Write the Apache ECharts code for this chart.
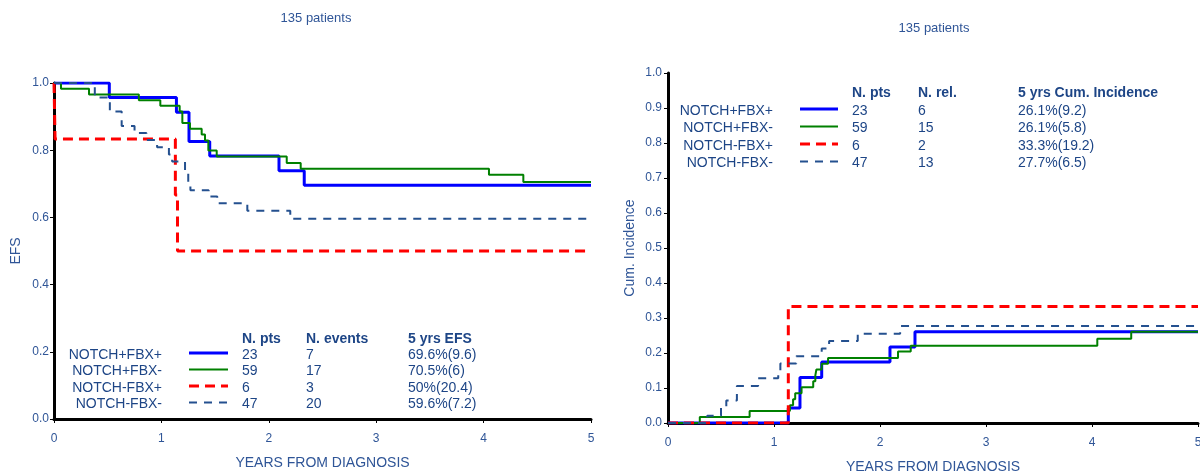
<!DOCTYPE html>
<html><head><meta charset="utf-8">
<script src="https://cdn.jsdelivr.net/npm/echarts@6/dist/echarts.min.js"></script>
<style>html,body{margin:0;padding:0;background:#fff}#c{width:1200px;height:473px}</style>
</head><body><div id="c"></div><script>
// ---- data ----
const groups = ['NOTCH+FBX+', 'NOTCH+FBX-', 'NOTCH-FBX+', 'NOTCH-FBX-'];
const nPts = [23, 59, 6, 47];
const nEvents = [7, 17, 3, 20];
const efs5 = ['69.6%(9.6)', '70.5%(6)', '50%(20.4)', '59.6%(7.2)'];
const nRel = [6, 15, 2, 13];
const ci5 = ['26.1%(9.2)', '26.1%(5.8)', '33.3%(19.2)', '27.7%(6.5)'];
const xTicks = [0, 1, 2, 3, 4, 5];
const efsTicks = [0, 0.2, 0.4, 0.6, 0.8, 1.0];
const ciTicks = [0, 0.1, 0.2, 0.3, 0.4, 0.5, 0.6, 0.7, 0.8, 0.9, 1.0];
const subtitle = '135 patients';

// EFS (Kaplan-Meier) steps: [years, EFS]
const efsNfPos = [[0,1],[0.515,0.957],[1.14,0.913],[1.257,0.826],[1.45,0.783],[2.095,0.739],[2.33,0.696],[5,0.696]];
const efsNfNeg = [[0,1],[0.065,0.983],[0.326,0.966],[0.79,0.949],[0.99,0.932],[1.17,0.915],[1.195,0.881],[1.266,0.864],[1.375,0.847],[1.406,0.829],[1.437,0.799],[1.515,0.781],[2.167,0.762],[2.297,0.745],[4.05,0.727],[4.37,0.705],[5,0.705]];
const efsNnPos = [[0,1],[0.01,0.833],[1.13,0.667],[1.15,0.5],[5,0.5]];
const efsNnNeg = [[0,1],[0.38,0.957],[0.52,0.915],[0.63,0.872],[0.75,0.851],[0.86,0.830],[0.96,0.809],[1.07,0.787],[1.10,0.766],[1.22,0.741],[1.25,0.706],[1.27,0.681],[1.44,0.662],[1.52,0.642],[1.80,0.620],[2.20,0.596],[5,0.596]];

// Cumulative incidence of relapse steps: [years, CI]
const ciNfPos = [[0,0],[1.135,0.043],[1.245,0.130],[1.45,0.174],[2.094,0.217],[2.33,0.261],[5,0.261]];
const ciNfNeg = [[0,0],[0.30,0.017],[0.77,0.034],[1.15,0.051],[1.18,0.068],[1.20,0.085],[1.26,0.102],[1.37,0.119],[1.39,0.136],[1.40,0.153],[1.45,0.169],[1.51,0.186],[2.17,0.204],[2.29,0.221],[4.05,0.241],[4.37,0.261],[5,0.261]];
const ciNnPos = [[0,0],[1.135,0.333],[5,0.333]];
const ciNnNeg = [[0,0],[0.37,0.021],[0.50,0.043],[0.55,0.064],[0.65,0.106],[0.85,0.128],[1.04,0.149],[1.06,0.170],[1.21,0.191],[1.45,0.213],[1.52,0.234],[1.79,0.255],[2.19,0.277],[5,0.277]];

// ---- styles ----
const colors = ['#0000ff', '#008000', '#ff0000', '#24508f'];
const widths = [3, 2, 3, 2];
const dashes = ['solid', 'solid', [10, 6], [8, 7]];
const axisTextColor = '#2f5597';
const legendColor = '#1d4586';
const FONT = '"Liberation Sans", Arial, sans-serif';

const efsData = [efsNfPos, efsNfNeg, efsNnPos, efsNnNeg];
const ciData = [ciNfPos, ciNfNeg, ciNnPos, ciNnNeg];

function xAxisCfg(gi, gap) {
  return {
    type: 'value', gridIndex: gi, min: 0, max: 5, interval: 1,
    name: 'YEARS FROM DIAGNOSIS', nameLocation: 'middle', nameGap: gap,
    nameTextStyle: { color: axisTextColor, fontSize: 14, fontFamily: FONT },
    axisLine: { show: true, onZero: false, lineStyle: { color: '#000', width: 3 } },
    axisTick: { show: true, length: 4, lineStyle: { color: '#000', width: 1 } },
    axisLabel: { color: axisTextColor, fontSize: 12, fontFamily: FONT, margin: 14,
      formatter: v => xTicks.includes(v) ? String(v) : '' },
    splitLine: { show: false }
  };
}
function yAxisCfg(gi, name, interval, gap, ticks, margin) {
  return {
    type: 'value', gridIndex: gi, min: 0, max: 1, interval: interval,
    name: name, nameLocation: 'middle', nameGap: gap,
    nameTextStyle: { color: axisTextColor, fontSize: 14, fontFamily: FONT },
    axisLine: { show: true, onZero: false, lineStyle: { color: '#000', width: 3 } },
    axisTick: { show: true, length: 4, lineStyle: { color: '#000', width: 1 } },
    axisLabel: { color: axisTextColor, fontSize: 12, fontFamily: FONT, margin: margin,
      formatter: v => ticks.some(t => Math.abs(t - v) < 1e-9) ? v.toFixed(1) : '' },
    splitLine: { show: false }
  };
}

const series = [];
[efsData, ciData].forEach((set, gi) => {
  set.forEach((d, i) => {
    series.push({
      type: 'line', step: 'end', xAxisIndex: gi, yAxisIndex: gi,
      data: d, showSymbol: false, symbol: 'none', animation: false,
      lineStyle: { color: colors[i], width: widths[i], type: dashes[i] },
      z: 2 + i
    });
  });
});

// legend tables (graphic)
const graphics = [];
function txt(x, y, text, opts) {
  graphics.push({ type: 'text', x: x, y: y, silent: true,
    style: Object.assign({ text: String(text), fill: legendColor, font: '14px ' + FONT,
      align: 'left', verticalAlign: 'middle' }, opts || {}) });
}
function sample(x1, x2, y, i) {
  graphics.push({ type: 'line', silent: true, shape: { x1: x1, y1: y, x2: x2, y2: y },
    style: { stroke: colors[i], lineWidth: widths[i], lineDash: Array.isArray(dashes[i]) ? dashes[i] : null } });
}
function table(cfg) {
  txt(cfg.cols[0], cfg.headY, 'N. pts', { font: 'bold 14px ' + FONT });
  txt(cfg.cols[1], cfg.headY, cfg.h2, { font: 'bold 14px ' + FONT });
  txt(cfg.cols[2], cfg.headY, cfg.h3, { font: 'bold 14px ' + FONT });
  groups.forEach((g, i) => {
    const y = cfg.rowY0 + i * cfg.dy;
    txt(cfg.labelRight, y, g, { align: 'right' });
    sample(cfg.lx1, cfg.lx2, y - 2, i);
    txt(cfg.cols[0], y, nPts[i]);
    txt(cfg.cols[1], y, cfg.c2[i]);
    txt(cfg.cols[2], y, cfg.c3[i]);
  });
}
table({ headY: 339, rowY0: 355, dy: 16.5, labelRight: 162, lx1: 189, lx2: 228,
  cols: [242, 306, 408], h2: 'N. events', h3: '5 yrs EFS', c2: nEvents, c3: efs5 });
table({ headY: 93, rowY0: 111, dy: 17.5, labelRight: 773, lx1: 800, lx2: 838,
  cols: [852, 918, 1018], h2: 'N. rel.', h3: '5 yrs Cum. Incidence', c2: nRel, c3: ci5 });
txt(316, 18, subtitle, { align: 'center', fill: axisTextColor, font: '13px ' + FONT });
txt(934, 28, subtitle, { align: 'center', fill: axisTextColor, font: '13px ' + FONT });

const chart = echarts.init(document.getElementById('c'), null, { renderer: 'canvas' });
chart.setOption({
  animation: false,
  backgroundColor: '#fff',
  grid: [
    { left: 54, top: 83, width: 537, height: 336, outerBoundsMode: 'none', containLabel: false },
    { left: 668, top: 73, width: 530, height: 350, outerBoundsMode: 'none', containLabel: false }
  ],
  xAxis: [xAxisCfg(0, 37), xAxisCfg(1, 37)],
  yAxis: [yAxisCfg(0, 'EFS', 0.2, 31, efsTicks, 5), yAxisCfg(1, 'Cum. Incidence', 0.1, 31, ciTicks, 6)],
  series: series,
  graphic: graphics
});
</script></body></html>
